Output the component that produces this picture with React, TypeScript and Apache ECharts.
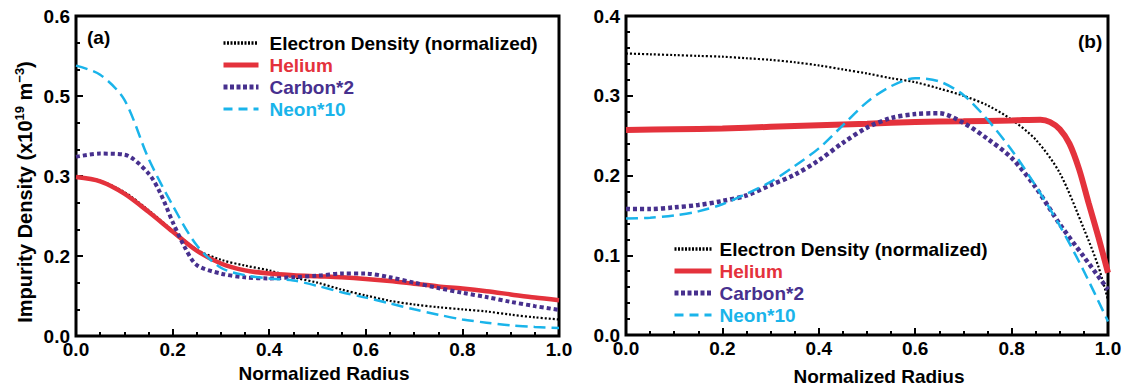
import React, { useEffect, useRef } from "react";
import * as echarts from "echarts";

// ---------- data ----------
const radiusA = [0, 0.05, 0.1, 0.15, 0.2, 0.25, 0.3, 0.35, 0.4, 0.45, 0.5, 0.55, 0.6, 0.65, 0.7, 0.75, 0.8, 0.85, 0.9, 0.95, 1.0];
const electronA = [0.300, 0.291, 0.270, 0.236, 0.198, 0.162, 0.143, 0.132, 0.123, 0.110, 0.100, 0.087, 0.076, 0.066, 0.059, 0.054, 0.050, 0.046, 0.040, 0.035, 0.031];
const heliumA = [0.298, 0.290, 0.267, 0.233, 0.196, 0.160, 0.136, 0.123, 0.117, 0.114, 0.112, 0.110, 0.107, 0.103, 0.098, 0.093, 0.089, 0.084, 0.078, 0.072, 0.067];
const radiusCarbonA = [0, 0.05, 0.1, 0.15, 0.175, 0.2, 0.225, 0.25, 0.3, 0.35, 0.4, 0.45, 0.5, 0.55, 0.6, 0.65, 0.7, 0.75, 0.8, 0.85, 0.9, 0.95, 1.0];
const carbonA = [0.336, 0.342, 0.340, 0.305, 0.267, 0.214, 0.167, 0.133, 0.117, 0.110, 0.108, 0.110, 0.113, 0.117, 0.117, 0.110, 0.100, 0.090, 0.081, 0.073, 0.064, 0.056, 0.049];
const neonA = [0.507, 0.490, 0.443, 0.333, 0.245, 0.170, 0.128, 0.114, 0.108, 0.104, 0.094, 0.082, 0.072, 0.061, 0.050, 0.040, 0.031, 0.025, 0.020, 0.017, 0.015];

const radiusB = [0, 0.05, 0.1, 0.15, 0.2, 0.25, 0.3, 0.35, 0.4, 0.45, 0.5, 0.55, 0.6, 0.65, 0.7, 0.75, 0.8, 0.85, 0.9, 0.95, 1.0];
const radiusElectronB = [0, 0.05, 0.1, 0.15, 0.2, 0.25, 0.3, 0.35, 0.4, 0.45, 0.5, 0.55, 0.6, 0.65, 0.7, 0.75, 0.8, 0.85, 0.9, 0.95, 0.98, 1.0];
const electronB = [0.353, 0.352, 0.351, 0.350, 0.349, 0.347, 0.345, 0.342, 0.338, 0.333, 0.328, 0.322, 0.317, 0.309, 0.300, 0.288, 0.270, 0.245, 0.203, 0.133, 0.086, 0.044];
const radiusHeliumB = [0, 0.1, 0.2, 0.3, 0.4, 0.5, 0.6, 0.7, 0.8, 0.86, 0.88, 0.9, 0.92, 0.94, 0.96, 0.98, 1.0];
const heliumB = [0.257, 0.258, 0.259, 0.261, 0.263, 0.265, 0.267, 0.268, 0.269, 0.270, 0.267, 0.258, 0.240, 0.208, 0.165, 0.123, 0.078];
const carbonB = [0.158, 0.158, 0.160, 0.163, 0.168, 0.175, 0.188, 0.201, 0.219, 0.241, 0.260, 0.272, 0.277, 0.278, 0.266, 0.246, 0.222, 0.185, 0.139, 0.098, 0.057];
const neonB = [0.146, 0.147, 0.150, 0.155, 0.164, 0.177, 0.192, 0.212, 0.234, 0.263, 0.292, 0.312, 0.322, 0.318, 0.301, 0.270, 0.232, 0.187, 0.137, 0.080, 0.017];

const seriesNames = ["Electron Density (normalized)", "Helium", "Carbon*2", "Neon*10"];
const yTickLabelsA = ["0.0", "0.2", "0.3", "0.5", "0.6"];
const yTickLabelsB = ["0.0", "0.1", "0.2", "0.3", "0.4"];
const xTickLabels = ["0.0", "0.2", "0.4", "0.6", "0.8", "1.0"];

// ---------- styles ----------
const FONT = "'Liberation Sans', Arial, sans-serif";
const BLACK = "#000000";
const RED = "#e4323c";
const PURPLE = "#47308e";
const CYAN = "#1ab4ea";
const colors = [BLACK, RED, PURPLE, CYAN];
const legendLineStyles = [
  { width: 3.5, type: [2, 1.5] },
  { width: 5, type: "solid" },
  { width: 5, type: [4, 2.5] },
  { width: 3, type: [9, 6] },
];

const pairs = (xs: number[], ys: number[]) => xs.map((x, i) => [x, ys[i]]);

export default function App() {
  const ref = useRef<HTMLDivElement>(null);
  useEffect(() => {
    document.body.style.margin = "0";
    if (!ref.current) return;
    const chart = echarts.init(ref.current, null, { renderer: "svg" });

    const xAxisBase = (gridIndex: number, nameGap: number, namePad: number) => ({
      type: "value",
      gridIndex,
      min: 0,
      max: 1,
      interval: 0.2,
      name: "Normalized Radius",
      nameLocation: "middle",
      nameGap,
      nameTextStyle: { fontFamily: FONT, fontWeight: "bold", fontSize: 19, color: BLACK, padding: [0, 0, 0, namePad] },
      axisLine: { show: false },
      axisTick: { show: true, inside: true, length: 7, lineStyle: { color: BLACK, width: 2 } },
      minorTick: { show: true, splitNumber: 4, length: 4, lineStyle: { color: BLACK, width: 2 } },
      splitLine: { show: false },
      axisLabel: {
        margin: 4,
        fontFamily: FONT,
        fontWeight: "bold",
        fontSize: 19,
        color: BLACK,
        formatter: (v: number) => xTickLabels[Math.round(v / 0.2)],
      },
    });

    const yAxisBase = (gridIndex: number, max: number, interval: number, split: number, labels: string[]) => ({
      type: "value",
      gridIndex,
      min: 0,
      max,
      interval,
      axisLine: { show: false },
      axisTick: { show: true, inside: true, length: 7, lineStyle: { color: BLACK, width: 2 } },
      minorTick: { show: true, splitNumber: split, length: 4, lineStyle: { color: BLACK, width: 2 } },
      splitLine: { show: false },
      axisLabel: {
        margin: 6,
        fontFamily: FONT,
        fontWeight: "bold",
        fontSize: 19,
        color: BLACK,
        formatter: (v: number) => labels[Math.round(v / interval)],
      },
    });

    const lineSeries = (name: string, data: number[][], xi: number, color: string, width: number, type: any) => ({
      type: "line",
      name,
      xAxisIndex: xi,
      yAxisIndex: xi,
      data,
      smooth: 0.3,
      symbol: "none",
      showSymbol: false,
      lineStyle: { color, width, type },
      itemStyle: { color },
      z: 3,
    });

    const legendData = seriesNames.map((n, i) => ({
      name: n,
      textStyle: { color: colors[i] },
      lineStyle: { color: colors[i], ...legendLineStyles[i] },
    }));

    const legendBase = {
      orient: "vertical",
      itemHeight: 14,
      itemGap: 0,
      selectedMode: false,
      data: legendData,
      itemStyle: { opacity: 0, color: "transparent", borderWidth: 0 },
    };

    chart.setOption({
      animation: false,
      grid: [
        { left: 76, top: 16, width: 483, height: 320, show: true, borderColor: BLACK, borderWidth: 3, backgroundColor: "transparent" },
        { left: 626, top: 16, width: 482, height: 320, show: true, borderColor: BLACK, borderWidth: 3, backgroundColor: "transparent" },
      ],
      xAxis: [xAxisBase(0, 28, 13), xAxisBase(1, 32, 24)],
      yAxis: [yAxisBase(0, 0.6, 0.15, 3, yTickLabelsA), yAxisBase(1, 0.4, 0.1, 5, yTickLabelsB)],
      legend: [
        {
          ...legendBase,
          left: 216,
          top: 27,
          itemWidth: 35,
          textStyle: { fontFamily: FONT, fontWeight: "bold", fontSize: 19, lineHeight: 22, padding: [0, 0, 0, 6] },
        },
        {
          ...legendBase,
          left: 667,
          top: 233,
          itemWidth: 37,
          textStyle: { fontFamily: FONT, fontWeight: "bold", fontSize: 19, lineHeight: 22, padding: [0, 0, 0, 3] },
        },
      ],
      graphic: [
        { type: "text", left: 87, top: 28, style: { text: "(a)", fontFamily: FONT, fontWeight: "bold", fontSize: 19, fill: BLACK } },
        { type: "text", left: 1078, top: 32, style: { text: "(b)", fontFamily: FONT, fontWeight: "bold", fontSize: 19, fill: BLACK } },
        {
          type: "text",
          x: 25,
          y: 192,
          rotation: Math.PI / 2,
          style: {
            text: "{a|Impurity Density (x10}{s|19}{a| m}{s|−3}{a|)}",
            align: "center",
            verticalAlign: "middle",
            rich: {
              a: { fontFamily: FONT, fontWeight: "bold", fontSize: 20, fill: BLACK, lineHeight: 24 },
              s: { fontFamily: FONT, fontWeight: "bold", fontSize: 13, fill: BLACK, verticalAlign: "top", lineHeight: 24, padding: [0, 0, 9, 0] },
            },
          },
        },
      ],
      series: [
        lineSeries(seriesNames[0], pairs(radiusA, electronA), 0, BLACK, 2.2, [2, 2]),
        lineSeries(seriesNames[1], pairs(radiusA, heliumA), 0, RED, 4.5, "solid"),
        lineSeries(seriesNames[2], pairs(radiusCarbonA, carbonA), 0, PURPLE, 4, [4, 3]),
        lineSeries(seriesNames[3], pairs(radiusA, neonA), 0, CYAN, 2.5, [12, 6]),
        lineSeries(seriesNames[0], pairs(radiusElectronB, electronB), 1, BLACK, 2.2, [2, 2]),
        lineSeries(seriesNames[1], pairs(radiusHeliumB, heliumB), 1, RED, 6, "solid"),
        lineSeries(seriesNames[2], pairs(radiusB, carbonB), 1, PURPLE, 4.5, [4, 3]),
        lineSeries(seriesNames[3], pairs(radiusB, neonB), 1, CYAN, 2.5, [12, 6]),
      ],
    });
    return () => chart.dispose();
  }, []);
  return <div ref={ref} style={{ width: 1127, height: 391 }} />;
}
